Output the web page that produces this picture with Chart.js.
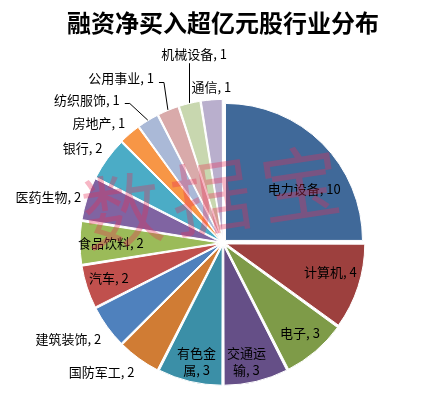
<!DOCTYPE html>
<html><head><meta charset="utf-8">
<script src="https://cdn.jsdelivr.net/npm/chart.js@4/dist/chart.umd.min.js"></script>
<style>html,body{margin:0;padding:0;background:#fff}#wrap{width:431px;height:395px}</style>
</head><body><div id="wrap"><canvas id="c" width="431" height="395"></canvas></div>
<script>
const titleText = '融资净买入超亿元股行业分布';
const categories = ['电力设备','计算机','电子','交通运输','有色金属','国防军工','建筑装饰','汽车','食品饮料','医药生物','银行','房地产','纺织服饰','公用事业','机械设备','通信'];
const values = [10,4,3,3,3,2,2,2,2,2,2,1,1,1,1,1];
const colors = ['#406999','#9D403E','#7E9B48','#654F87','#3B8FA7','#D07C34','#4F81BD','#C0504D','#9BBB59','#8064A2','#4BACC6','#F79646','#AAB9D7','#D9AAAA','#C8D7AF','#B9AFCD'];
// label placement (polar, degrees clockwise from top, px from pie centre)
const labelAngles = [56.5,105.1,139.45,168.8,192.6,223.35,238.1,253.1,269.8,284.7,304,314.1,316.4,328.2,351.3,355.7];
const labelDistances = [97.4,111.3,118.4,120.8,121.4,177,182.2,119.4,112.2,180.6,169.4,172.8,197.3,193.4,190.9,156.1];
const wrapAt = [0,0,0,3,3,0,0,0,0,0,0,0,0,0,0,0];
const leaderTypes = [null,null,null,null,null,null,null,null,null,null,null,null,'elbow','elbow','vertical',null];
const watermarkChars = ['数','据','宝'];

function labelLines(i){
  const full = categories[i] + ', ' + values[i];
  if (!wrapAt[i]) return [full];
  return [full.slice(0, wrapAt[i]), full.slice(wrapAt[i])];
}

const labelPlugin = {
  id: 'sliceLabels',
  afterDatasetsDraw(chart){
    const meta = chart.getDatasetMeta(0);
    const ctx = chart.ctx;
    ctx.save();
    ctx.font = '13px "Noto Sans CJK SC"';
    ctx.fillStyle = '#000';
    ctx.textAlign = 'center';
    ctx.textBaseline = 'middle';
    meta.data.forEach((arc, i) => {
      const cx = arc.x, cy = arc.y;
      const a = labelAngles[i] * Math.PI / 180;
      const lx = cx + labelDistances[i] * Math.sin(a);
      const ly = cy - labelDistances[i] * Math.cos(a);
      const lines = labelLines(i);
      const lh = 17;
      lines.forEach((t, k) => ctx.fillText(t, lx, ly + (k - (lines.length - 1) / 2) * lh));
      if (leaderTypes[i]) {
        const mid = (arc.startAngle + arc.endAngle) / 2;
        const off = (arc.options.offset || 0) / 2;
        const ex = cx + (arc.outerRadius + off) * Math.cos(mid);
        const ey = cy + (arc.outerRadius + off) * Math.sin(mid);
        ctx.beginPath();
        ctx.strokeStyle = '#000';
        ctx.lineWidth = 1;
        if (leaderTypes[i] === 'vertical') {
          const x = Math.round(ex) + 0.5;
          ctx.moveTo(x, ey);
          ctx.lineTo(x, ly + 9);
        } else {
          const w = ctx.measureText(lines[0]).width;
          const rx = lx + w / 2;
          const y = Math.round(ly + 3) + 0.5;
          ctx.moveTo(rx + 5, y);
          ctx.lineTo(rx + 10, y);
          ctx.lineTo(ex, ey);
        }
        ctx.stroke();
      }
    });
    ctx.restore();
  }
};

const watermarkPlugin = {
  id: 'watermark',
  afterDraw(chart){
    const ctx = chart.ctx;
    ctx.save();
    ctx.translate(211, 197);
    ctx.rotate(-8.5 * Math.PI / 180);
    ctx.font = '80px "Noto Sans CJK SC"';
    ctx.fillStyle = 'rgba(232,45,85,0.34)';
    ctx.textAlign = 'center';
    ctx.textBaseline = 'middle';
    watermarkChars.forEach((ch, k) => ctx.fillText(ch, (k - 1) * 90, 0));
    ctx.restore();
  }
};

new Chart(document.getElementById('c'), {
  type: 'pie',
  data: {
    labels: categories,
    datasets: [{
      data: values,
      backgroundColor: colors,
      borderColor: '#ffffff',
      borderWidth: 1,
      offset: 14,
      radius: 137
    }]
  },
  options: {
    responsive: false,
    animation: false,
    layout: { padding: { left: 15, right: 0, top: 0, bottom: 11 } },
    plugins: {
      legend: { display: false },
      tooltip: { enabled: false },
      title: {
        display: true,
        text: titleText,
        color: '#000',
        font: { family: '"Noto Sans CJK SC"', size: 24, weight: 'bold' },
        padding: { top: 8, bottom: 65 }
      }
    }
  },
  plugins: [labelPlugin, watermarkPlugin]
});
</script>
</body></html>
